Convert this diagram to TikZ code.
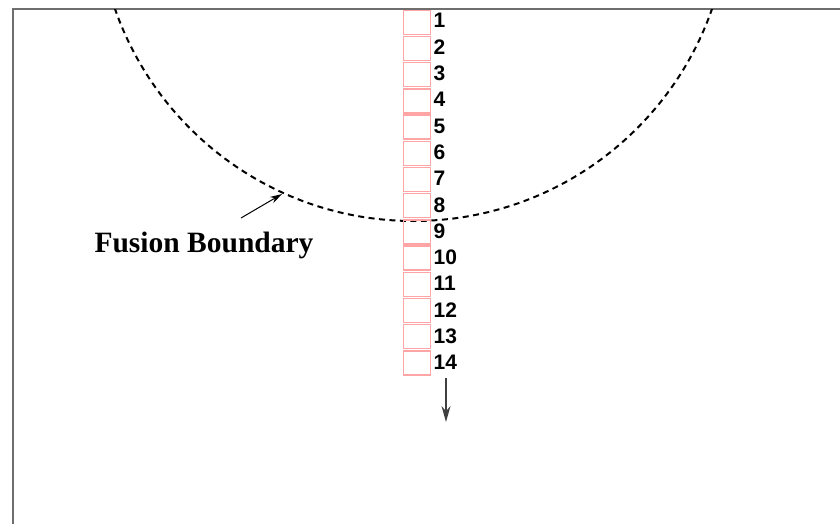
\documentclass[tikz,border=0pt]{standalone}
\usepackage{fontspec}
\newfontfamily\numfont{Liberation Sans}
\newfontfamily\lblfont{Liberation Serif}
\usetikzlibrary{arrows.meta}
\definecolor{cellred}{RGB}{255,165,165}
\definecolor{framegray}{RGB}{110,110,110}
\tikzset{
  cell/.style={draw=cellred, line width=1.3pt, minimum width=27pt, minimum height=24pt, inner sep=0pt, outer sep=0pt},
  num/.style={anchor=west, inner sep=0pt, font=\numfont\bfseries\fontsize{21}{22}\selectfont},
  frame/.style={draw=framegray, line width=2.2pt},
  boundary/.style={line width=2pt, dash pattern=on 6pt off 4.5pt},
  pointer/.style={line width=1pt, -{Stealth[length=12pt,width=7pt]}},
  deptharrow/.style={line width=1.2pt, draw=black!75, -{Stealth[length=16pt,width=9pt]}}
}
\begin{document}
\begin{tikzpicture}[x=1pt,y=-1pt]
\useasboundingbox (0,0) rectangle (840,524);
% frame
\draw[frame] (13,530) -- (13,9) -- (845,9);
% dashed fusion boundary
\begin{scope}
\clip (14,10) rectangle (840,524);
\draw[boundary] (413.5,-95) circle[radius=316];
\end{scope}
% cells and labels
\foreach \i in {1,...,14}{
  \pgfmathsetmacro{\yc}{22.3+(\i-1)*26.2}
  \pgfmathsetmacro{\yl}{\yc-1.6+(\i-1)*0.1}
  \node[cell] (b\i) at (417,\yc) {};
  \node[num] (l\i) at (433.5,\yl) {\i};
}
% depth arrow
\coordinate (astart) at (446,378);
\coordinate (aend) at (446,422);
\draw[deptharrow] (astart) -- (aend);
% fusion boundary label
\node[font=\lblfont\bfseries\fontsize{29.5}{32}\selectfont, inner sep=0pt] (fb) at (204,245) {Fusion Boundary};
\coordinate (fbtail) at (241,218);
\coordinate (fbtip) at (282,194);
\draw[pointer] (fbtail) -- (fbtip);
\end{tikzpicture}
\end{document}
